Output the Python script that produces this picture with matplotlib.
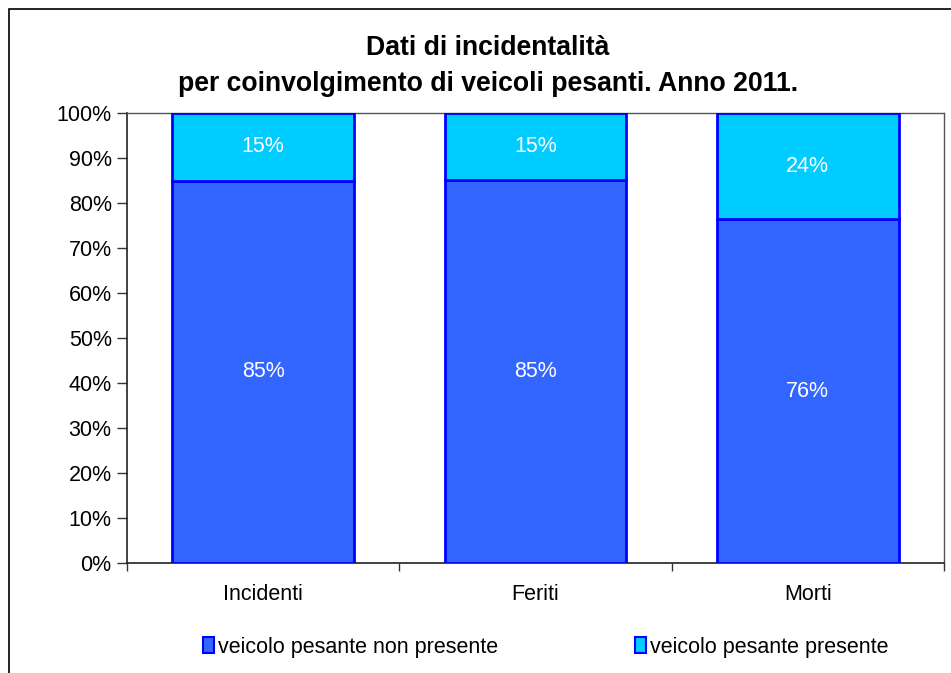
import matplotlib
matplotlib.use("Agg")
import matplotlib.pyplot as plt
from matplotlib.patches import Rectangle, Patch
from matplotlib.ticker import PercentFormatter, FixedLocator
import numpy as np

plt.rcParams['font.family'] = ['Liberation Sans', 'DejaVu Sans']

categories = ["Incidenti", "Feriti", "Morti"]
non_presente = [84.9, 85.1, 76.4]
presente = [15.1, 14.9, 23.6]
series_names = ["veicolo pesante non presente", "veicolo pesante presente"]
title = "Dati di incidentalità\nper coinvolgimento di veicoli pesanti. Anno 2011."

W, H = 951, 673
fig = plt.figure(figsize=(W / 100, H / 100), dpi=100)

# outer frame (cropped on right and bottom)
fig.patches.append(Rectangle((8.5 / W, -0.1), 1.2, 1 - 9 / H + 0.1, transform=fig.transFigure,
                             fill=False, edgecolor='black', linewidth=1.2, clip_on=False))

left, right, top, bottom = 127, 944, 113, 563
ax = fig.add_axes([left / W, 1 - bottom / H, (right - left) / W, (bottom - top) / H])

x = np.arange(len(categories))
bw = 0.667
c1, c2 = '#3366FF', '#00CCFF'
fs = 15.5
ax.bar(x, non_presente, bw, color=c1, edgecolor='#0000FF', linewidth=2, zorder=3)
ax.bar(x, presente, bw, bottom=non_presente, color=c2, edgecolor='#0000FF', linewidth=2, zorder=3)

for i in range(len(categories)):
    ax.text(x[i], non_presente[i] / 2, f"{round(non_presente[i])}%", ha='center', va='center',
            color='white', fontsize=fs, zorder=4)
    ax.text(x[i], non_presente[i] + presente[i] / 2, f"{round(presente[i])}%", ha='center', va='center',
            color='white', fontsize=fs, zorder=4)

ax.set_xlim(-0.5, len(categories) - 0.5)
ax.set_ylim(0, 100)
ax.set_yticks(np.arange(0, 101, 10))
ax.yaxis.set_major_formatter(PercentFormatter(100, decimals=0))
ax.tick_params(axis='y', labelsize=fs, length=7, width=1, color='#333333', pad=4)
ax.set_xticks(x)
ax.set_xticklabels(categories)
ax.tick_params(axis='x', which='major', length=0, labelsize=fs, pad=15)
ax.xaxis.set_minor_locator(FixedLocator(np.arange(-0.5, len(categories), 1.0)))
ax.tick_params(axis='x', which='minor', length=6, width=1, color='#333333')

for s in ['left', 'bottom']:
    ax.spines[s].set_color('#222222')
    ax.spines[s].set_linewidth(1.2)
for s in ['top', 'right']:
    ax.spines[s].set_color('#555555')
    ax.spines[s].set_linewidth(1)

fig.text(488 / W, 1 - 66 / H, title, ha='center', va='center', fontsize=19.2,
         fontweight='bold', linespacing=1.5)

handles = [Patch(facecolor=c1, edgecolor='#0000FF', linewidth=1.5),
           Patch(facecolor=c2, edgecolor='#0000FF', linewidth=1.5)]
fig.legend(handles, series_names, loc='center', bbox_to_anchor=(546 / W, 1 - 647 / H), ncol=2,
           frameon=False, fontsize=fs, handlelength=0.5, handleheight=0.8, handletextpad=0.2,
           columnspacing=6.35)

fig.savefig('out.png', dpi=100)
